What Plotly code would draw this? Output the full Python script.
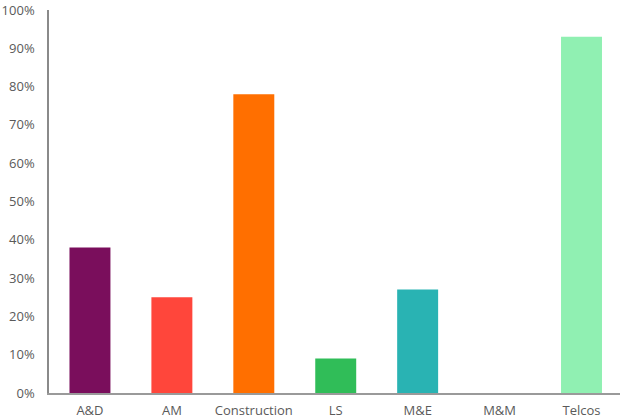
import plotly.graph_objects as go

# Share of respondents by sector
categories = ["A&D", "AM", "Construction", "LS", "M&E", "M&M", "Telcos"]
values = [38, 25, 78, 9, 27, 0, 93]
colors = ["#7A0E5C", "#FF463B", "#FF6F00", "#30BD58", "#29B3B3", "#FFFFFF", "#90F0B2"]
y_ticks = list(range(0, 101, 10))
y_tick_labels = [f"{t}%" for t in y_ticks]

fig = go.Figure(
    go.Bar(
        x=categories,
        y=values,
        marker=dict(color=colors, line=dict(width=0)),
        width=0.5,
        hoverinfo="x+y",
    )
)

font_family = "'Open Sans', Lato, sans-serif"
text_color = "#5a5a5a"

fig.update_layout(
    width=620,
    height=419,
    margin=dict(l=49, r=0, t=10, b=26),
    paper_bgcolor="white",
    plot_bgcolor="white",
    showlegend=False,
    font=dict(family=font_family, size=13, color=text_color),
    bargap=0.5,
)

fig.update_xaxes(
    range=[-0.5, 6.47],
    showgrid=False,
    showline=True,
    linecolor="#9a9a9a",
    linewidth=1.5,
    ticks="",
    ticklabelstandoff=5,
    tickfont=dict(size=13, color=text_color),
)

fig.update_yaxes(
    range=[0, 100],
    tickvals=y_ticks,
    ticktext=y_tick_labels,
    showgrid=False,
    zeroline=False,
    showline=True,
    linecolor="#8a8a8a",
    linewidth=1.5,
    ticks="",
    ticklabelstandoff=10,
    tickfont=dict(size=13, color=text_color),
)

fig.write_html("out.html")
